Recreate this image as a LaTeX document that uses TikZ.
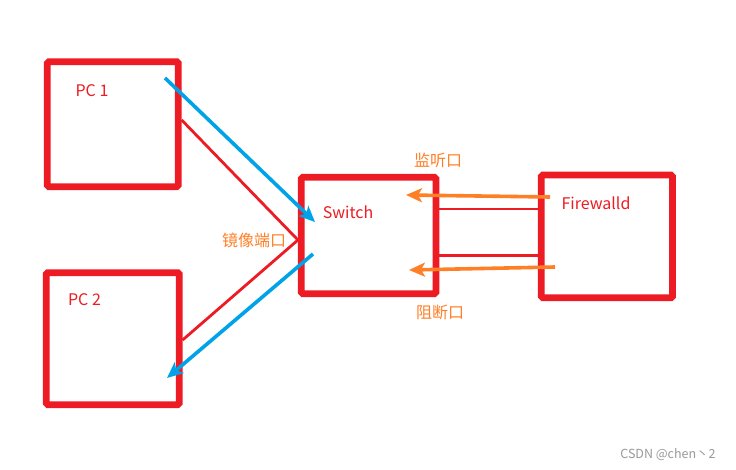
\documentclass[tikz,border=0pt]{standalone}
\usepackage{fontspec}
\setmainfont{Noto Sans CJK SC}
\usetikzlibrary{arrows.meta,calc}
\definecolor{pred}{HTML}{ED1C24}
\definecolor{pblue}{HTML}{00A2E8}
\definecolor{porange}{HTML}{FF7F27}
\definecolor{wgray}{HTML}{9A9A9A}
\begin{document}
\begin{tikzpicture}[x=1pt,y=-1pt,
  box/.style={draw=pred,line width=6.7pt,rounded corners=1.5pt,inner sep=0pt},
  link/.style={draw=pred,line width=2.8pt},
  bluearr/.style={draw=pblue,line width=3.6pt,-{Stealth[length=16pt,width=14pt,inset=4pt]}},
  orarr/.style={draw=porange,line width=3.6pt,-{Stealth[length=16pt,width=14pt,inset=4pt]}},
  lbl/.style={text=pred,font=\fontsize{16pt}{18pt}\selectfont,inner sep=0pt},
  olbl/.style={text=porange,font=\fontsize{16pt}{18pt}\selectfont,inner sep=0pt}]
\useasboundingbox (0,0) rectangle (736,470);
\fill[white] (0,0) rectangle (736,470);
% boxes
\node[box,minimum width=131pt,minimum height=125pt] (pc1) at (112.8,124.2) {};
\node[box,minimum width=133pt,minimum height=132pt] (pc2) at (112.75,338.7) {};
\node[box,minimum width=134.7pt,minimum height=116.4pt] (sw) at (368.65,235.5) {};
\node[box,minimum width=131.2pt,minimum height=122.8pt] (fw) at (606.9,236.4) {};
% labels
\node[lbl] (pc1t) at (92,91) {PC 1};
\node[lbl] (pc2t) at (84.5,300) {PC 2};
\node[lbl] (swt) at (348,212) {Switch};
\node[lbl] (fwt) at (596,203.5) {Firewalld};
\node[olbl] (mon) at (438,160.5) {监听口};
\node[olbl] (blk) at (440,312.5) {阻断口};
\node[olbl] (mir) at (254,240) {镜像端口};
\node[text=wgray,font=\fontsize{12.5pt}{14pt}\selectfont,inner sep=0pt] (wm) at (668,455) {CSDN @chen丶2};
% red links
\draw[link] ([yshift=4.2pt]pc1.east) -- ([yshift=-4.5pt]sw.west) -- ([yshift=-1.3pt]pc2.east);
\draw[link] ([yshift=26.5pt]sw.east) -- ([yshift=27.4pt]fw.west);
\draw[link] ([yshift=-20.2pt]sw.east) -- ([yshift=-19.3pt]fw.west);
% arrow ends
\coordinate (b1s) at (165,78);
\coordinate (b1e) at (315,222);
\coordinate (b2s) at (313,254);
\coordinate (b2e) at (167,378);
\coordinate (o1s) at (550,197);
\coordinate (o1e) at (406,195);
\coordinate (o2s) at (555,267);
\coordinate (o2e) at (409,270);
\draw[bluearr] (b1s) -- (b1e);
\draw[bluearr] (b2s) -- (b2e);
\draw[orarr] (o1s) -- (o1e);
\draw[orarr] (o2s) -- (o2e);
\end{tikzpicture}
\end{document}
